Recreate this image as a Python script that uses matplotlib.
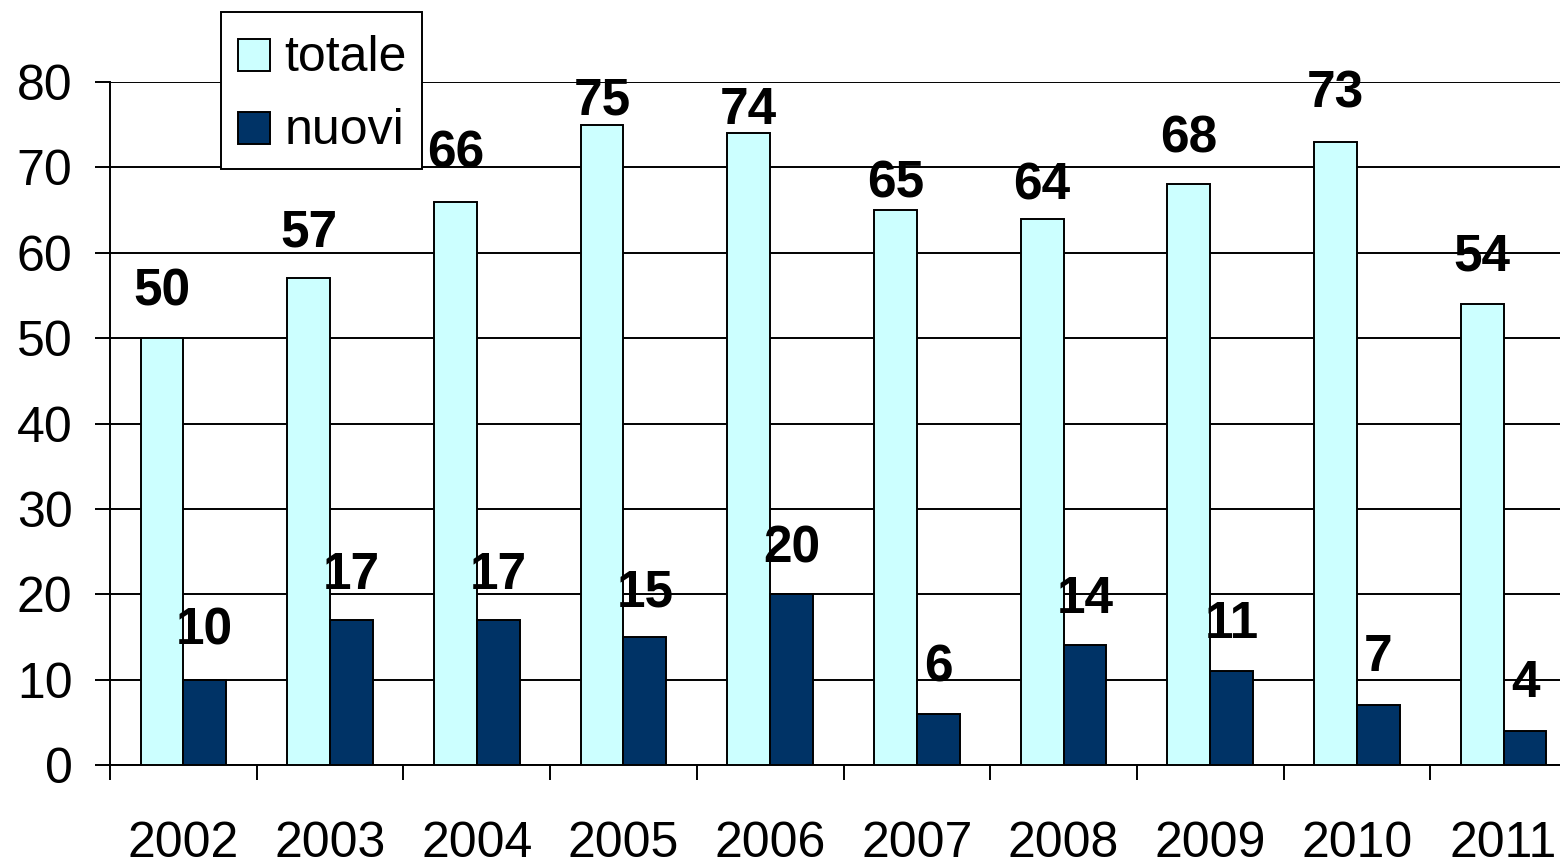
import matplotlib
matplotlib.use("Agg")
import matplotlib.pyplot as plt
from matplotlib.patches import Rectangle
from matplotlib.legend_handler import HandlerPatch
import numpy as np

years = ["2002", "2003", "2004", "2005", "2006", "2007", "2008", "2009", "2010", "2011"]
totale = [50, 57, 66, 75, 74, 65, 64, 68, 73, 54]
nuovi = [10, 17, 17, 15, 20, 6, 14, 11, 7, 4]
series_names = ["totale", "nuovi"]

# label offsets above bar tops (pixels), as placed in the original
off_totale = [33, 32, 34, 10, 9, 13, 19, 32, 34, 33]
off_nuovi = [35, 31, 31, 30, 32, 32, 32, 33, 34, 34]

plt.rcParams['font.family'] = ['Liberation Sans', 'DejaVu Sans']

W, H = 1560, 861
fig = plt.figure(figsize=(W/100, H/100), dpi=100)
ax = fig.add_axes([110/W, (H-765)/H, (1577-110)/W, (765-82)/H])

x = np.arange(len(years))
bw = 0.292
c1 = '#CCFFFF'
c2 = '#003366'
b1 = ax.bar(x - bw/2, totale, bw, color=c1, edgecolor='black', linewidth=1.4, zorder=3)
b2 = ax.bar(x + bw/2, nuovi, bw, color=c2, edgecolor='black', linewidth=1.4, zorder=3)

px2pt = 0.72
for xi, v, o in zip(x - bw/2, totale, off_totale):
    ax.annotate(str(v), (xi, v), xytext=(0, o*px2pt), textcoords='offset points',
                ha='center', va='baseline', fontsize=37, fontweight='bold', zorder=4)
for xi, v, o in zip(x + bw/2, nuovi, off_nuovi):
    ax.annotate(str(v), (xi, v), xytext=(0, o*px2pt), textcoords='offset points',
                ha='center', va='baseline', fontsize=37, fontweight='bold', zorder=4)

ax.set_xlim(-0.5, len(years) - 0.5)
ax.set_ylim(0, 80)
ax.set_yticks(np.arange(0, 81, 10))
ax.yaxis.grid(True, color='black', linewidth=1.4, zorder=0)
ax.set_axisbelow(True)

ax.set_xticks(np.arange(-0.5, len(years), 1.0))
ax.set_xticklabels([])
ax.set_xticks(x, minor=True)
ax.set_xticklabels(years, minor=True, fontsize=36)
ax.tick_params(axis='x', which='major', length=11, width=1.4, direction='out')
ax.tick_params(axis='x', which='minor', length=0, pad=40)
ax.tick_params(axis='y', labelsize=36, length=11, width=1.4, pad=16)

for s in ['top', 'right']:
    ax.spines[s].set_visible(False)
for s in ['left', 'bottom']:
    ax.spines[s].set_linewidth(1.4)
    ax.spines[s].set_color('black')


def square(legend, orig_handle, xdescent, ydescent, width, height, fontsize):
    return Rectangle((-xdescent + 0.02*fontsize, 0), 0.64*fontsize, 0.64*fontsize)


leg = ax.legend([b1.patches[0], b2.patches[0]], series_names,
                loc='upper left', bbox_to_anchor=(221/W, 1-12/H), bbox_transform=fig.transFigure,
                fontsize=36, frameon=True, fancybox=False, shadow=False, borderaxespad=0,
                handlelength=0.66, handleheight=1.24, handletextpad=0.3, borderpad=0.31,
                labelspacing=0.40,
                handler_map={Rectangle: HandlerPatch(patch_func=square)})
leg.get_frame().set_edgecolor('black')
leg.get_frame().set_linewidth(1.4)
leg.get_frame().set_alpha(1)
leg.set_zorder(10)

fig.savefig('out.png', dpi=100)
